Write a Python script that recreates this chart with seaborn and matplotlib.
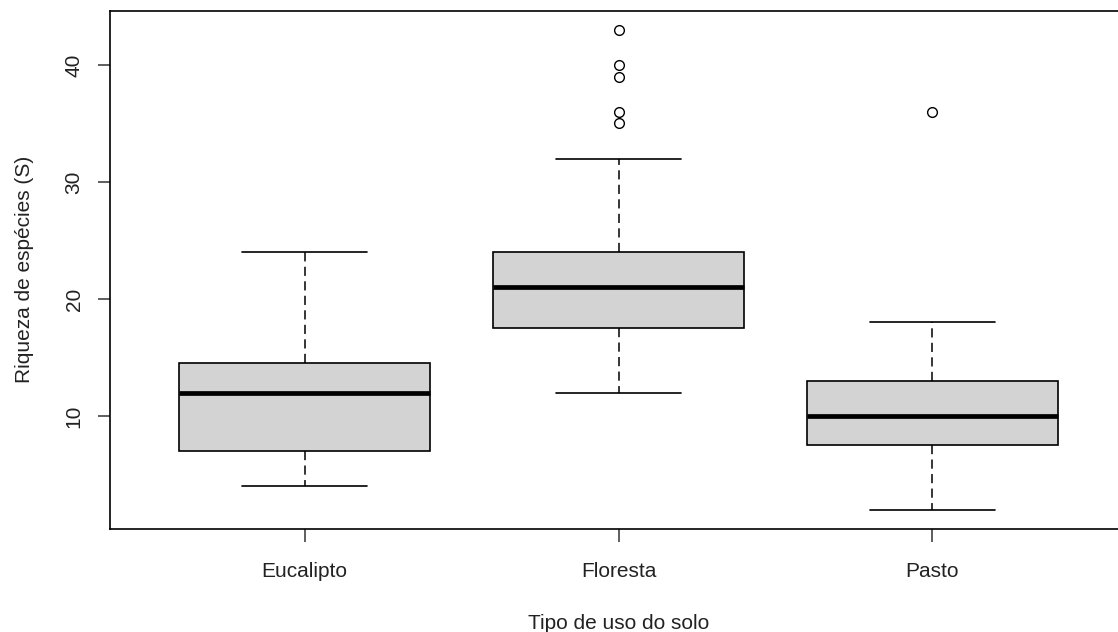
import numpy as np
import pandas as pd
import matplotlib
matplotlib.use("Agg")
import matplotlib.pyplot as plt
import seaborn as sns

# Species richness per sampling plot, grouped by land-use type
categories = ["Eucalipto", "Floresta", "Pasto"]
eucalipto = [4, 6, 7, 7, 9, 12, 13, 14, 15, 20, 24]
floresta = [12, 13, 14, 15, 16, 16, 17, 17, 18, 18, 19, 19, 20, 20, 21, 21,
            21, 22, 22, 23, 23, 24, 24, 24, 26, 32, 35, 36, 39, 40, 43]
pasto = [2, 5, 7, 8, 9, 10, 11, 13, 13, 18, 36]
y_ticks = [10, 20, 30, 40]

df = pd.DataFrame({
    "uso": (["Eucalipto"] * len(eucalipto) + ["Floresta"] * len(floresta)
            + ["Pasto"] * len(pasto)),
    "S": eucalipto + floresta + pasto,
})

sns.set_style("white")
plt.rcParams["font.family"] = ["Liberation Sans", "DejaVu Sans"]

fig = plt.figure(figsize=(11.18, 6.32), dpi=100)
ax = fig.add_axes([110 / 1118, 103 / 632, 1017 / 1118, 518.5 / 632])

sns.boxplot(
    data=df, x="uso", y="S", order=categories, ax=ax,
    color="#D3D3D3", linecolor="black", linewidth=1.2, width=0.8,
    saturation=1, whis=1.5,
    medianprops=dict(linewidth=3.4, color="black"),
    whiskerprops=dict(linestyle=(0, (6, 3.5)), linewidth=1.1),
    capprops=dict(linewidth=1.2),
    flierprops=dict(marker="o", markerfacecolor="none",
                    markeredgecolor="black", markersize=7,
                    markeredgewidth=1.0),
)

ax.set_xlim(-0.62, 2.62)
ax.set_ylim(0.36, 44.64)
ax.set_yticks(y_ticks)
ax.set_yticklabels([str(t) for t in y_ticks], rotation=90, va="center")

for side in ["left", "right", "top", "bottom"]:
    ax.spines[side].set_visible(True)
    ax.spines[side].set_color("black")
    ax.spines[side].set_linewidth(1.2)

ax.tick_params(axis="both", which="major", direction="out", length=9,
               width=1.1, color="#333333", labelsize=15, labelcolor="#222222")
ax.tick_params(axis="y", pad=10, left=True)
ax.tick_params(axis="x", pad=14.5, bottom=True)

ax.set_xlabel("Tipo de uso do solo", fontsize=15, color="#222222", labelpad=24)
ax.set_ylabel("Riqueza de espécies (S)", fontsize=15, color="#222222",
              labelpad=22)

fig.savefig("out.png", dpi=100)
